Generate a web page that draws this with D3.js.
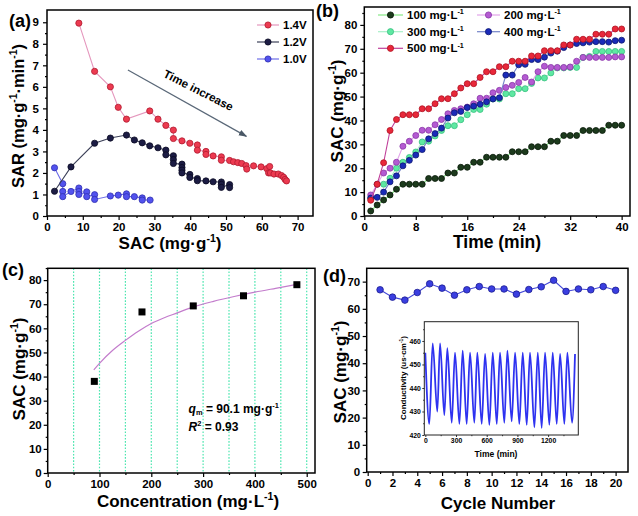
<!DOCTYPE html>
<html><head><meta charset="utf-8">
<script src="https://cdn.jsdelivr.net/npm/d3@7"></script>
<style>
body{margin:0;background:#fff}
svg{display:block}
text{font-family:Arial,"Liberation Sans",sans-serif;font-weight:bold;fill:#000}
</style>
</head><body>
<svg id="c" width="638" height="516"></svg>
<script>
// ---------- DATA ----------
// (a) SAR vs SAC at three voltages
const sac14 = [8.9,13.3,17.7,19.9,22.2,28.7,31.0,33.2,35.3,35.3,37.7,39.9,42.0,42.0,44.4,44.4,46.4,48.7,48.7,51.0,52.1,53.3,54.4,55.6,55.8,57.7,59.8,61.4,61.9,62.2,62.4,63.4,64.6,65.5,66.1,66.5,66.9];
const sar14 = [8.96,6.72,6.0,5.05,4.5,4.88,4.5,4.21,3.99,3.6,3.49,3.38,3.3,3.06,3.0,2.86,2.79,2.75,2.59,2.58,2.52,2.48,2.44,2.34,2.18,2.33,2.28,2.2,2.0,2.3,2.0,1.95,1.95,1.88,1.8,1.7,1.63];
const sac12 = [2.1,6.7,13.3,17.7,22.2,24.4,26.6,28.7,31.0,33.2,33.2,35.3,35.3,35.3,37.7,37.7,37.7,37.7,39.9,39.9,42.0,42.0,44.4,46.4,48.7,48.7,48.7,51.0,51.0];
const sar12 = [1.15,2.28,3.38,3.62,3.76,3.53,3.4,3.26,3.17,3.06,2.84,2.8,2.62,2.44,2.41,2.25,2.13,2.0,1.93,1.79,1.74,1.64,1.63,1.59,1.58,1.47,1.33,1.46,1.32];
const sac10 = [2.1,4.4,4.4,4.4,6.7,8.9,8.9,8.9,11.1,11.1,13.3,13.3,17.7,19.9,22.2,22.2,24.4,26.6,26.6,28.8];
const sar10 = [2.24,1.5,1.14,0.9,1.14,1.3,1.14,1.0,1.12,0.9,0.99,0.77,0.93,0.97,1.03,0.9,0.9,0.84,0.74,0.74];
const voltLabels = ["1.4V","1.2V","1.0V"];

// (b) SAC vs time for five concentrations
const timeMin = d3.range(1,41);
const s100 = [2.1,4.6,6.7,8.8,11.2,13.3,13.3,13.3,13.3,15.7,15.7,15.7,18,18,20.4,20.4,22.5,22.5,24.6,24.6,24.6,24.6,26.9,26.9,26.9,29,29,29,31.3,31.3,33.7,33.7,33.7,35.8,35.8,35.8,35.8,38,38,38];
const s200 = [8.8,13.3,18,20,22.5,29.2,31.3,33.7,35.9,35.9,38.2,40.4,42.8,44.2,44.9,45.6,47,49.3,49.3,51.6,52.6,53.8,54.7,55.9,58,56.1,60.4,62.7,62.2,62.2,62.2,62.4,64.8,66.4,66.4,66.4,66.4,66.4,66.6,66.6];
const s300 = [7.5,13.3,13.3,15.8,20,22.5,24.5,26.8,31,31.3,33.5,35.8,37.8,37.8,40.3,42.4,44.6,44.6,46.8,49,49,51.2,51.2,53.3,53.3,55.5,57.8,57.8,59.9,62,62,62.2,62.2,66.4,66.8,68.9,68.9,68.9,68.9,68.9];
const s400 = [7.5,7.8,10,14.3,16.8,21,23.3,25.5,27.8,32.3,34.5,36.8,41,43.2,43.8,45.4,46,46.8,47.8,49,49.5,59,59,63.3,63.5,65.5,65.5,66.5,68.2,69,70.5,71.6,72.2,72.5,72.8,73,73,72.8,73.4,73.6];
const s500 = [6.6,13.3,22.3,35.8,40.4,42.4,42.4,42.4,44.9,44.9,47,49.1,49.1,51.2,53.6,55.4,55.4,58,60.4,60.4,62.5,62.5,64.8,64.8,64.8,67,67,69.2,69.2,69.2,71.6,71.6,74,74,74,76.1,76.1,76.1,78.3,78.3];
const concLabels = ["100 mg·L","200 mg·L","300 mg·L","400 mg·L","500 mg·L"];

// (c) isotherm
const concC = [90,182,281,378,481];
const sacC = [38,66.8,69.3,73.5,78.1];
const fitC = [89,100,125,150,175,200,225,250,280,320,360,400,440,481];
const fitQ = [42.8,45.5,50.8,55,58.8,62,64.4,66.4,68.8,71.2,73.2,75,76.6,78.2];
const gridC = [50,100,150,200,250,300,350,400,450,500];

// (d) cycling
const cycles = d3.range(1,21);
const sacCycle = [67,64.3,63.2,66,69.2,67.6,65,67,68.2,67.3,67.3,65.4,67.1,68.1,70.5,66.4,67.3,67,68.2,66.8];
// inset: conductivity turning points
const insetT = [0,39,72,117,144,186,215,258,290,333,365,404,437,479,508,551,584,626,659,698,730,772,802,844,877,919,952,991,1023,1066,1099,1137,1170,1212,1245,1284,1317,1359,1388,1434,1463];
const insetV = [455,424.7,459,430,459,428.5,456.9,425.2,455,424.7,455.9,424.7,455,425.2,455,424.7,454.5,424.3,455,424.7,455,425.2,455.9,425.8,455,424.7,455,424.3,455,423.3,455,423,455,424.3,455,424.7,454.5,424.7,455,425.2,454.5];

// ---------- HELPERS ----------
const svg = d3.select("#c");
svg.append("rect").attr("width",638).attr("height",516).attr("fill","#fff");

function rich(sel, parts, fs){
  let shift = 0;
  parts.forEach(([t,k])=>{
    const ts = sel.append("tspan").text(t);
    let target = 0, size = fs;
    if(k==="sup"){target=-fs*0.4; size=fs*0.62;}
    if(k==="sub"){target=fs*0.2; size=fs*0.62;}
    ts.attr("dy", target-shift); shift = target;
    if(size!==fs) ts.attr("font-size", size);
    if(k==="i") ts.attr("font-style","italic");
  });
}

function axes(g, x, y, o){
  const fs = o.fs || 11.5;
  g.append("g").attr("transform",`translate(0,${y.range()[0]})`)
    .call(d3.axisBottom(x).tickValues(o.xMajor).tickSize(o.tk||4).tickPadding(o.xPad||3).tickFormat(o.xFmt||d3.format("d")));
  g.append("g").attr("transform",`translate(0,${y.range()[0]})`)
    .call(d3.axisBottom(x).tickValues(o.xMinor).tickSize(o.tkm||2).tickFormat(""));
  g.append("g").attr("transform",`translate(${x.range()[0]},0)`)
    .call(d3.axisLeft(y).tickValues(o.yMajor).tickSize(o.tk||4).tickPadding(o.yPad||3).tickFormat(o.yFmt||d3.format("d")));
  g.append("g").attr("transform",`translate(${x.range()[0]},0)`)
    .call(d3.axisLeft(y).tickValues(o.yMinor).tickSize(o.tkm||2).tickFormat(""));
  g.selectAll(".domain").remove();
  g.selectAll(".tick line").attr("stroke","#000").attr("stroke-width",o.tw||1.2);
  g.selectAll(".tick text").attr("font-size",fs).attr("font-family",'Arial,"Liberation Sans",sans-serif').attr("font-weight","bold").attr("fill","#000");
  const [x0,x1] = x.range(), [y0,y1] = y.range();
  g.append("rect").attr("x",x0).attr("y",y1).attr("width",x1-x0).attr("height",y0-y1)
    .attr("fill","none").attr("stroke",o.frame||"#000").attr("stroke-width",o.fw||1.5);
}

function series(g, xs, ys, x, y, lineCol, dotFill, dotStroke, r){
  g.append("path").datum(xs).attr("fill","none").attr("stroke",lineCol).attr("stroke-width",1.1)
    .attr("d", d3.line().x((d)=>x(d)).y((d,i)=>y(ys[i])));
  g.append("g").selectAll("circle").data(xs).join("circle")
    .attr("cx",d=>x(d)).attr("cy",(d,i)=>y(ys[i])).attr("r",r||3.1)
    .attr("fill",dotFill).attr("stroke",dotStroke).attr("stroke-width",0.8);
}

function legendItem(g, x0, x1, yy, lineCol, dotFill, dotStroke, parts, fs){
  g.append("line").attr("x1",x0).attr("x2",x1).attr("y1",yy).attr("y2",yy).attr("stroke",lineCol).attr("stroke-width",1.2);
  g.append("circle").attr("cx",(x0+x1)/2).attr("cy",yy).attr("r",3.1).attr("fill",dotFill).attr("stroke",dotStroke).attr("stroke-width",0.8);
  const t = g.append("text").attr("x",x1+4).attr("y",yy+4).attr("font-size",fs);
  rich(t, parts, fs);
}

function panelLabel(x, y, s){
  svg.append("text").attr("x",x).attr("y",y).attr("font-size",18).text(s);
}

// ---------- PANEL (a) ----------
const ga = svg.append("g");
const xa = d3.scaleLinear([0,74.3],[47,313]);
const ya = d3.scaleLinear([0,9.57],[216,10]);
axes(ga, xa, ya, {xMajor:d3.range(0,71,10), xMinor:d3.range(5,75,10), yMajor:d3.range(0,10), yMinor:d3.range(0.5,9.5,1), yPad:4, xPad:3});
series(ga, sac10, sar10, xa, ya, "#6d6de8", "#5252ee", "#3030b0");
series(ga, sac12, sar12, xa, ya, "#3c4058", "#1c1c44", "#0a0a22");
series(ga, sac14, sar14, xa, ya, "#e597bd", "#ec3a50", "#b01a30");
const colsA = [["#e597bd","#ec3a50","#b01a30"],["#3c4058","#1c1c44","#0a0a22"],["#6d6de8","#5252ee","#3030b0"]];
voltLabels.forEach((v,i)=>legendItem(ga,257,279,[25,42,59][i],colsA[i][0],colsA[i][1],colsA[i][2],[[v]],11.5));
// arrow annotation
svg.append("defs").append("marker").attr("id","ah").attr("viewBox","0 0 10 10").attr("refX",9).attr("refY",5)
  .attr("markerWidth",7).attr("markerHeight",7).attr("orient","auto")
  .append("path").attr("d","M0,1.5L10,5L0,8.5Z").attr("fill","#4a5866");
ga.append("line").attr("x1",xa(22.6)).attr("y1",ya(6.78)).attr("x2",xa(55.7)).attr("y2",ya(3.7))
  .attr("stroke","#5a6878").attr("stroke-width",1.2).attr("marker-end","url(#ah)");
ga.append("text").attr("transform",`translate(${xa(42.3)},${ya(5.84)}) rotate(27)`).attr("text-anchor","middle")
  .attr("dominant-baseline","central").attr("font-size",11.5).text("Time increase");
// titles
rich(svg.append("text").attr("x",170).attr("y",249).attr("text-anchor","middle").attr("font-size",17),[["SAC (mg·g"],["-1","sup"],[")"]],17);
rich(svg.append("text").attr("transform","translate(24,116) rotate(-90)").attr("text-anchor","middle").attr("font-size",16.5),[["SAR (mg·g"],["-1","sup"],["·min"],["-1","sup"],[")"]],16.5);
panelLabel(9,27,"(a)");

// ---------- PANEL (b) ----------
const gb = svg.append("g");
const xb = d3.scaleLinear([0,41.3],[364.3,630]);
const yb = d3.scaleLinear([0,87.5],[216,7]);
axes(gb, xb, yb, {xMajor:d3.range(0,41,8), xMinor:d3.range(4,41,8), yMajor:d3.range(0,81,10), yMinor:d3.range(5,86,10), yPad:3, xPad:3});
const colsB = {
  s100:["#86e886","#1c3a1c","#081808"],
  s200:["#e2a4ea","#b45ad2","#8a38a8"],
  s300:["#a8f0c8","#5ee8a2","#38c080"],
  s400:["#7484c8","#1a2ab8","#0e1870"],
  s500:["#c0409a","#e8283a","#b01020"]
};
series(gb, timeMin, s100, xb, yb, ...colsB.s100, 3);
series(gb, timeMin, s300, xb, yb, ...colsB.s300, 3);
series(gb, timeMin, s200, xb, yb, ...colsB.s200, 3);
series(gb, timeMin, s400, xb, yb, ...colsB.s400, 3);
series(gb, timeMin, s500, xb, yb, ...colsB.s500, 3);
const legB = [[378,403,15,"s100",0],[477,500,15,"s200",1],[378,403,31.7,"s300",2],[477,500,31.7,"s400",3],[378,403,48.3,"s500",4]];
legB.forEach(([a,b,yy,k,i])=>legendItem(gb,a,b,yy,...colsB[k],[[concLabels[i]],["-1","sup"]],11.5));
rich(svg.append("text").attr("x",497).attr("y",248).attr("text-anchor","middle").attr("font-size",17.5),[["Time (min)"]],17.5);
rich(svg.append("text").attr("transform","translate(343,111) rotate(-90)").attr("text-anchor","middle").attr("font-size",17),[["SAC (mg·g"],["-1","sup"],[")"]],17);
panelLabel(316,17,"(b)");

// ---------- PANEL (c) ----------
const gc = svg.append("g");
const xc = d3.scaleLinear([0,516],[47.7,315]);
const yc = d3.scaleLinear([0,84.9],[473,268.3]);
gc.append("g").selectAll("line").data(gridC).join("line")
  .attr("x1",d=>xc(d)).attr("x2",d=>xc(d)).attr("y1",yc.range()[1]).attr("y2",yc.range()[0])
  .attr("stroke","#4ee6b0").attr("stroke-width",1.2).attr("stroke-dasharray","1.6,1.6");
axes(gc, xc, yc, {xMajor:d3.range(0,501,100), xMinor:d3.range(50,501,100), yMajor:d3.range(0,81,10), yMinor:d3.range(5,86,10), yPad:2, xPad:3});
gc.append("path").datum(fitC).attr("fill","none").attr("stroke","#c37ccc").attr("stroke-width",1.2)
  .attr("d", d3.line().curve(d3.curveMonotoneX).x(d=>xc(d)).y((d,i)=>yc(fitQ[i])));
gc.append("g").selectAll("rect").data(concC).join("rect")
  .attr("x",d=>xc(d)-3.5).attr("y",(d,i)=>yc(sacC[i])-3.5).attr("width",7).attr("height",7).attr("fill","#000");
const tq = gc.append("text").attr("x",xc(272)).attr("y",yc(25)).attr("font-size",12);
rich(tq,[["q","i"],["m","sub"],[" = 90.1 mg·g"],["-1","sup"]],12);
const tr = gc.append("text").attr("x",xc(272)).attr("y",yc(17.6)).attr("font-size",12);
rich(tr,[["R","i"],["2","sup"],[" = 0.93"]],12);
rich(svg.append("text").attr("x",188).attr("y",507).attr("text-anchor","middle").attr("font-size",17),[["Concentration (mg·L"],["-1","sup"],[")"]],17);
rich(svg.append("text").attr("transform","translate(25,369) rotate(-90)").attr("text-anchor","middle").attr("font-size",17),[["SAC (mg·g"],["-1","sup"],[")"]],17);
panelLabel(2,276,"(c)");

// ---------- PANEL (d) ----------
const gd = svg.append("g");
const xd = d3.scaleLinear([-0.08,21],[366.7,628]);
const yd = d3.scaleLinear([0,74.9],[472,268.3]);
axes(gd, xd, yd, {xMajor:d3.range(0,21,2), xMinor:d3.range(1,21,2), yMajor:d3.range(0,71,10), yMinor:d3.range(5,75,10), yPad:2.5, xPad:3});
series(gd, cycles, sacCycle, xd, yd, "#4448d8", "#3a3ee0", "#1a1c90", 3.3);
rich(svg.append("text").attr("x",498).attr("y",509).attr("text-anchor","middle").attr("font-size",17),[["Cycle Number"]],17);
rich(svg.append("text").attr("transform","translate(346,372) rotate(-90)").attr("text-anchor","middle").attr("font-size",17),[["SAC (mg·g"],["-1","sup"],[")"]],17);
panelLabel(323,282,"(d)");

// inset
const gi = svg.append("g");
const xi = d3.scaleLinear([-10,1495],[424.3,578.3]);
const yi = d3.scaleLinear([420,468.2],[435,321.7]);
gi.append("rect").attr("x",424.3).attr("y",321.7).attr("width",154).attr("height",113.3).attr("fill","#fff");
gi.append("path").datum(insetT).attr("fill","none").attr("stroke","#2e32f0").attr("stroke-width",1.8)
  .attr("d", d3.line().curve(d3.curveMonotoneX).x(d=>xi(d)).y((d,i)=>yi(insetV[i])));
axes(gi, xi, yi, {xMajor:d3.range(0,1201,300), xMinor:d3.range(150,1451,300), yMajor:d3.range(420,461,10), yMinor:d3.range(425,466,10), yPad:1.5, xPad:1.5, tk:2, tkm:1.2, tw:0.8, fs:6.8, fw:1, frame:"#222"});
rich(gi.append("text").attr("x",496).attr("y",457).attr("text-anchor","middle").attr("font-size",8.5),[["Time (min)"]],8.5);
rich(gi.append("text").attr("transform","translate(406,378) rotate(-90)").attr("text-anchor","middle").attr("font-size",8),[["Conductivity (us·cm"],["-1","sup"],[")"]],8);
</script>
</body></html>
